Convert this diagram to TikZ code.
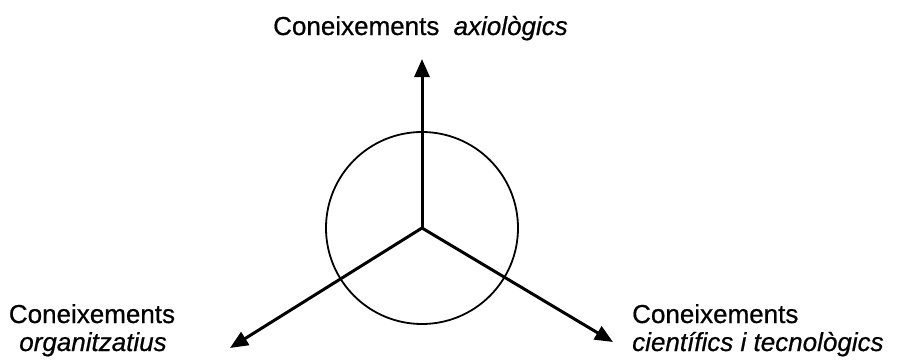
\documentclass[tikz,border=0pt]{standalone}
\usepackage{fontspec}
\setmainfont[FakeBold=0.6,AutoFakeBold=0.6]{Liberation Sans}
\usetikzlibrary{arrows.meta}
\begin{document}
\begin{tikzpicture}[x=1pt,y=-1pt,
  lbl/.style={inner sep=0pt, anchor=base, font=\fontsize{26}{28}\selectfont\bfseries},
  lblw/.style={lbl, anchor=base west},
  axis/.style={line width=3pt, -{Triangle[length=18pt,width=15pt]}}]
\useasboundingbox (0,0) rectangle (897,362);
\coordinate (c) at (422,228);
\node[circle, draw, line width=1.8pt, minimum size=192pt, inner sep=0pt] (circ) at (c) {};
\coordinate (tu) at (422,59);
\coordinate (tl) at (230,348);
\coordinate (tr) at (613,342);
\draw[axis] (c) -- (tu);
\draw[axis] (c) -- (tl);
\draw[axis] (c) -- (tr);
\node[lbl] (top) at (420.5,35) {Coneixements\hspace{7pt} \textit{axiològics}};
\node[lbl] (l1) at (92,323) {Coneixements};
\node[lbl] (l2) at (93,351) {\textit{organitzatius}};
\node[lblw] (r1) at (632,323) {Coneixements};
\node[lblw] (r2) at (632,351) {\textit{científics i tecnològics}};
\end{tikzpicture}
\end{document}
